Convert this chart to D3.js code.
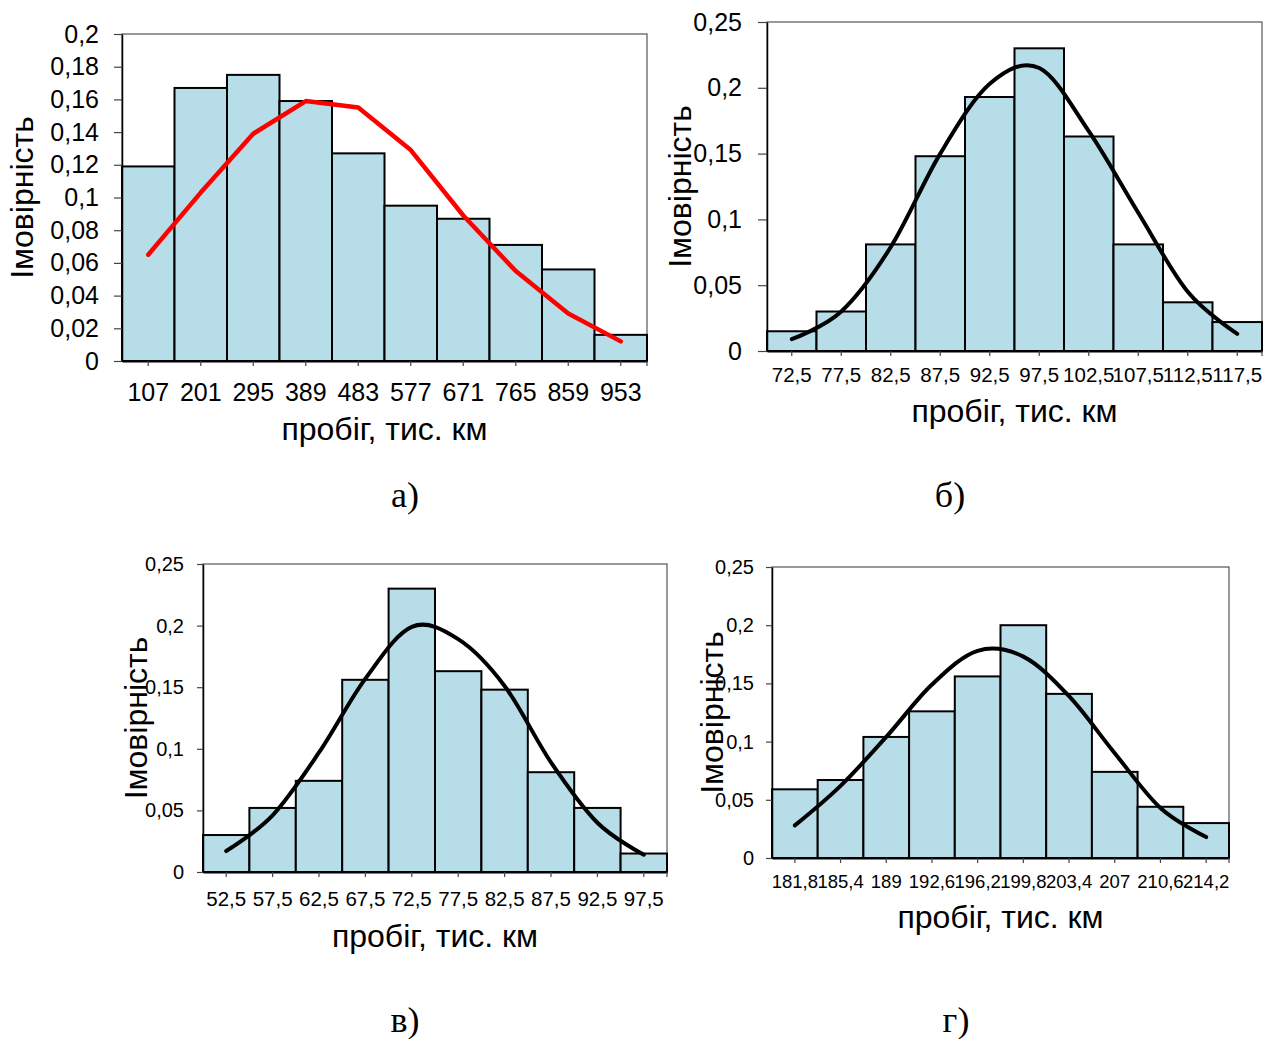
<!DOCTYPE html>
<html>
<head>
<meta charset="utf-8">
<script src="https://cdn.jsdelivr.net/npm/d3@7"></script>
<style>
  body { margin: 0; background: #fff; }
  text { font-family: "Liberation Sans", Arial, sans-serif; fill: #000; }
  .caption { font-family: "Liberation Serif", "Times New Roman", serif; }
</style>
</head>
<body>
<svg id="chart" width="1267" height="1039"></svg>
<script>
// ---- data ----
// panel a) mileage bins, observed frequencies and the fitted (red) curve
var binsA = ["107", "201", "295", "389", "483", "577", "671", "765", "859", "953"];
var freqA = [0.119, 0.167, 0.175, 0.159, 0.127, 0.095, 0.087, 0.071, 0.056, 0.016];
var fitA  = [0.065, 0.103, 0.139, 0.159, 0.155, 0.129, 0.089, 0.055, 0.029, 0.012];

// panel b)
var binsB = ["72,5", "77,5", "82,5", "87,5", "92,5", "97,5", "102,5", "107,5", "112,5", "117,5"];
var freqB = [0.015, 0.030, 0.081, 0.148, 0.193, 0.230, 0.163, 0.081, 0.037, 0.022];
var fitB  = [0.009, 0.030, 0.079, 0.150, 0.203, 0.215, 0.167, 0.105, 0.045, 0.013];

// panel c)
var binsC = ["52,5", "57,5", "62,5", "67,5", "72,5", "77,5", "82,5", "87,5", "92,5", "97,5"];
var freqC = [0.030, 0.052, 0.074, 0.156, 0.230, 0.163, 0.148, 0.081, 0.052, 0.015];
var fitC  = [0.017, 0.046, 0.097, 0.157, 0.199, 0.189, 0.151, 0.089, 0.040, 0.014];

// panel d)
var binsD = ["181,8", "185,4", "189", "192,6", "196,2", "199,8", "203,4", "207", "210,6", "214,2"];
var freqD = [0.059, 0.067, 0.104, 0.126, 0.156, 0.200, 0.141, 0.074, 0.044, 0.030];
var fitD  = [0.028, 0.062, 0.104, 0.149, 0.178, 0.173, 0.139, 0.090, 0.043, 0.018];

// y ticks
var yTicksA  = [0, 0.02, 0.04, 0.06, 0.08, 0.1, 0.12, 0.14, 0.16, 0.18, 0.2];
var yLabelsA = ["0", "0,02", "0,04", "0,06", "0,08", "0,1", "0,12", "0,14", "0,16", "0,18", "0,2"];
var yTicks25  = [0, 0.05, 0.1, 0.15, 0.2, 0.25];
var yLabels25 = ["0", "0,05", "0,1", "0,15", "0,2", "0,25"];

var yTitle = "Імовірність";
var xTitle = "пробіг, тис. км";
var captions = ["а)", "б)", "в)", "г)"];

// ---- layout of the four panels ----
var panels = [
  { bins: binsA, freq: freqA, fit: fitA, yTicks: yTicksA, yLabels: yLabelsA, yMax: 0.2,
    left: 122, right: 647, top: 34, bottom: 361, yTick: 8, yPad: 15, yFont: 25, xFont: 25,
    xBase: 401, titleBase: 440, yTitleX: 33, lineColor: "#ff0000", smooth: false,
    capX: 405, capY: 507 },
  { bins: binsB, freq: freqB, fit: fitB, yTicks: yTicks25, yLabels: yLabels25, yMax: 0.25,
    left: 767, right: 1262, top: 22, bottom: 351, yTick: 9, yPad: 16, yFont: 25, xFont: 20.5,
    xBase: 382, titleBase: 422, yTitleX: 691, lineColor: "#000", smooth: true,
    capX: 950, capY: 507 },
  { bins: binsC, freq: freqC, fit: fitC, yTicks: yTicks25, yLabels: yLabels25, yMax: 0.25,
    left: 203, right: 667, top: 564, bottom: 872, yTick: 6, yPad: 13, yFont: 20, xFont: 20.5,
    xBase: 906, titleBase: 947, yTitleX: 147, lineColor: "#000", smooth: true,
    capX: 405, capY: 1032 },
  { bins: binsD, freq: freqD, fit: fitD, yTicks: yTicks25, yLabels: yLabels25, yMax: 0.25,
    left: 772, right: 1229, top: 567, bottom: 858, yTick: 6, yPad: 12, yFont: 20, xFont: 18.5,
    xBase: 888, titleBase: 928, yTitleX: 723, lineColor: "#000", smooth: true,
    capX: 956, capY: 1032 }
];

var svg = d3.select("#chart");
svg.append("rect").attr("width", 1267).attr("height", 1039).attr("fill", "#fff");

panels.forEach(function (p, k) {
  var g = svg.append("g");

  var x = d3.scaleBand().domain(p.bins).range([p.left, p.right]).padding(0);
  var y = d3.scaleLinear().domain([0, p.yMax]).range([p.bottom, p.top]);

  // plot area frame
  g.append("rect")
    .attr("x", p.left).attr("y", p.top)
    .attr("width", p.right - p.left).attr("height", p.bottom - p.top)
    .attr("fill", "none").attr("stroke", "#555").attr("stroke-width", 1.2);

  // histogram bars
  g.selectAll("rect.bar")
    .data(p.freq)
    .enter()
    .append("rect")
    .attr("class", "bar")
    .attr("x", function (d, i) { return x(p.bins[i]); })
    .attr("y", function (d) { return y(d); })
    .attr("width", x.bandwidth())
    .attr("height", function (d) { return y(0) - y(d); })
    .attr("fill", "#b7dde8")
    .attr("stroke", "#000")
    .attr("stroke-width", 2);

  // y axis
  var yAxis = d3.axisLeft(y)
    .tickValues(p.yTicks)
    .tickFormat(function (d, i) { return p.yLabels[i]; })
    .tickSize(p.yTick)
    .tickSizeOuter(0)
    .tickPadding(p.yPad);
  var gy = g.append("g").attr("transform", "translate(" + p.left + ",0)").call(yAxis);
  gy.select(".domain").attr("stroke", "#000").attr("stroke-width", 1.5);
  gy.selectAll(".tick line").attr("stroke", "#444").attr("stroke-width", 1.2);
  gy.selectAll(".tick text").attr("font-size", p.yFont).attr("font-family", null);

  // x axis, ticks in the middle of each bin
  var xAxis = d3.axisBottom(x).tickSize(5).tickSizeOuter(0);
  var gx = g.append("g").attr("transform", "translate(0," + p.bottom + ")").call(xAxis);
  gx.select(".domain").attr("stroke", "#000").attr("stroke-width", 2);
  gx.selectAll(".tick line").attr("stroke", "#444").attr("stroke-width", 1.2);
  gx.selectAll(".tick text")
    .attr("font-size", p.xFont)
    .attr("font-family", null)
    .attr("y", p.xBase - p.bottom)
    .attr("dy", null);
  gx.append("line")
    .attr("x1", p.right).attr("x2", p.right)
    .attr("y1", 0).attr("y2", 5)
    .attr("stroke", "#444").attr("stroke-width", 1.2);

  // fitted distribution
  var line = d3.line()
    .x(function (d, i) { return x(p.bins[i]) + x.bandwidth() / 2; })
    .y(function (d) { return y(d); })
    .curve(p.smooth ? d3.curveCardinal.tension(0) : d3.curveLinear);
  g.append("path")
    .datum(p.fit)
    .attr("d", line)
    .attr("fill", "none")
    .attr("stroke", p.lineColor)
    .attr("stroke-width", p.smooth ? 4 : 4.5)
    .attr("stroke-linecap", "round")
    .attr("stroke-linejoin", "round");

  // axis titles
  g.append("text")
    .attr("x", (p.left + p.right) / 2)
    .attr("y", p.titleBase)
    .attr("text-anchor", "middle")
    .attr("font-size", 32)
    .text(xTitle);

  g.append("text")
    .attr("transform", "translate(" + p.yTitleX + "," + (p.top + p.bottom) / 2 + ") rotate(-90)")
    .attr("text-anchor", "middle")
    .attr("font-size", 32)
    .text(yTitle);

  // panel caption
  svg.append("text")
    .attr("class", "caption")
    .attr("x", p.capX)
    .attr("y", p.capY)
    .attr("text-anchor", "middle")
    .attr("font-size", 36)
    .text(captions[k]);
});
</script>
</body>
</html>
